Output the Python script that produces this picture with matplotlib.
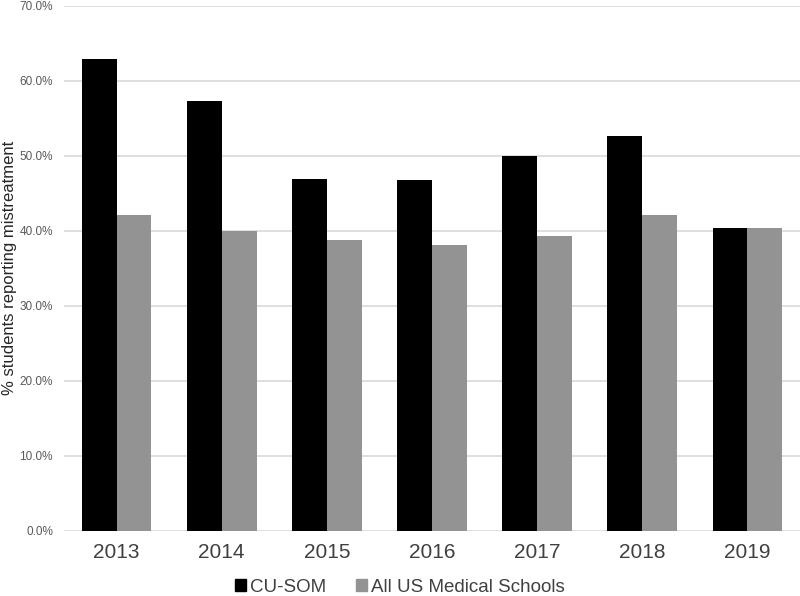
import matplotlib
matplotlib.use("Agg")
import matplotlib.pyplot as plt
from matplotlib.patches import Patch
from matplotlib.ticker import PercentFormatter
import numpy as np

years = ["2013", "2014", "2015", "2016", "2017", "2018", "2019"]
cu_som = [62.9, 57.3, 46.9, 46.7, 50.0, 52.6, 40.3]
all_us = [42.1, 39.9, 38.7, 38.1, 39.3, 42.1, 40.4]
series_names = ["CU-SOM", "All US Medical Schools"]

plt.rcParams['font.family'] = ['Liberation Sans', 'DejaVu Sans']

fig = plt.figure(figsize=(8, 5.96), dpi=100)
ax = fig.add_axes([0.08, 0.1096, 0.92, 0.8808])

x = np.arange(len(years))
w = 0.332
ax.bar(x - w / 2, cu_som, w, color="#000000", zorder=3)
ax.bar(x + w / 2, all_us, w, color="#939393", zorder=3)

ax.set_xlim(-0.5, len(years) - 0.5)
ax.set_ylim(0, 70)
ax.set_yticks(np.arange(0, 71, 10))
ax.yaxis.set_major_formatter(PercentFormatter(decimals=1))
ax.set_xticks(x)
ax.set_xticklabels(years)

ax.grid(axis="y", color="#d9d9d9", linewidth=1.2, zorder=0)
for s in ax.spines.values():
    s.set_visible(False)
ax.tick_params(axis="y", length=0, pad=8, labelsize=8.5, labelcolor="#595959")
ax.tick_params(axis="x", length=0, pad=9, labelsize=15, labelcolor="#404040")

ax.set_ylabel("% students reporting mistreatment", fontsize=12,
              color="#262626", va="center")
ax.yaxis.set_label_coords(-0.0735, 0.5)

handles = [Patch(color="#000000"), Patch(color="#939393")]
fig.legend(handles, series_names, loc="center",
           bbox_to_anchor=(0.5, 1 - 587 / 596), ncol=2, frameon=False,
           fontsize=13.5, handlelength=0.6, handleheight=0.6,
           handletextpad=0.2, columnspacing=1.6, labelcolor="#404040")

fig.savefig("out.png", dpi=100)
